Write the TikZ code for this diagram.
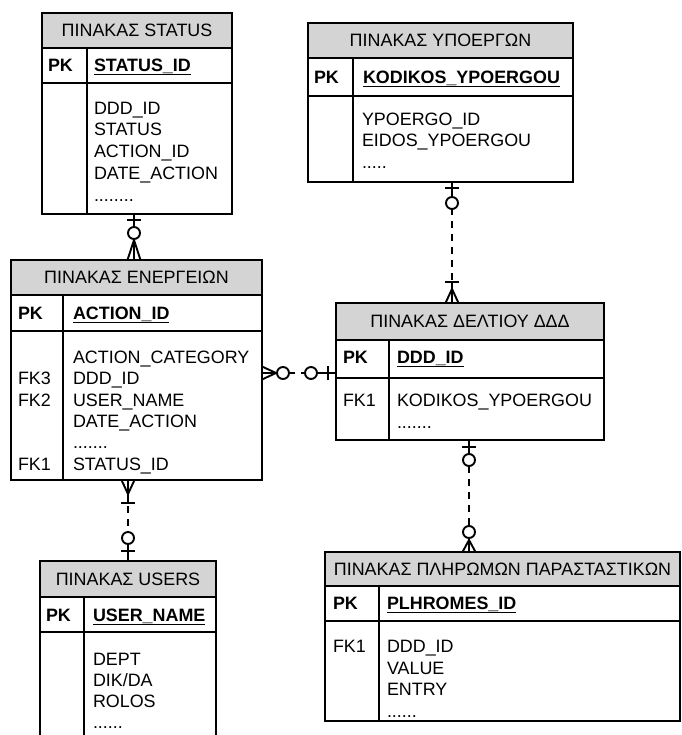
\documentclass[tikz,border=0pt]{standalone}
\usepackage{fontspec}
\setmainfont{Liberation Sans}
\usetikzlibrary{calc}
\definecolor{headgray}{HTML}{D4D4D4}
\newcommand{\tblfont}{\fontsize{17.9}{21}\selectfont}
\tikzset{
  boxline/.style={draw=black, line width=1.3pt},
  tblpart/.style={boxline, anchor=north west, inner sep=0pt, outer sep=0pt},
  tblhead/.style={tblpart, fill=headgray, font=\tblfont},
  fieldtxt/.style={anchor=base west, inner sep=0pt, outer sep=0pt, font=\tblfont},
  keytxt/.style={fieldtxt, font=\tblfont\bfseries},
  link/.style={draw=black, line width=1.9pt, line join=round},
  dashlink/.style={link, dash pattern=on 7pt off 6pt},
  pics/crowfoot/.style={code={\draw[link] (0,-6.5) -- (#1,0) -- (0,6.5) (0,0) -- (#1,0);}},
  pics/onebar/.style={code={\draw[link] (0,0) -- (#1,0) (#1,-7) -- (#1,7);}},
  pics/zeroring/.style={code={\draw[link] (0,0) -- (#1,0); \draw[link, fill=white] (#1,0) circle[radius=6];}},
}
% a row of n trailing dots
\newcommand{\etcdots}[1]{\ifcase#1\or.\or..\or...\or....\or.....\or......\or.......\or........\fi}
% table: name, x, y, width, header h, key row h, body h, divider x, title
\newcommand{\ertable}[9]{%
  \node[tblhead, minimum width=#4pt, minimum height=#5pt] (#1-h) at (#2,#3) {#9};
  \node[tblpart, minimum width=#4pt, minimum height=#6pt] (#1-k) at (#1-h.south west) {};
  \node[tblpart, minimum width=#4pt, minimum height=#7pt] (#1-b) at (#1-k.south west) {};
  \draw[boxline] (#8,0 |- #1-k.north) -- (#8,0 |- #1-b.south);
}
% attribute rows: prefix, x, first baseline, step, list
\newcommand{\fieldrows}[5]{%
  \foreach \t [count=\i] in {#5} \node[fieldtxt] (#1\i) at (#2, {#3+(\i-1)*#4}) {\t};
}
\newcommand{\keyunder}[1]{%
  \draw[line width=1.4pt] ($(#1.base west)+(0,3)$) -- ($(#1.base east)+(0,3)$);
}
\begin{document}
\begin{tikzpicture}[x=1pt,y=-1pt]
\useasboundingbox (0,0) rectangle (681,735);

% tables
\ertable{st}{42}{13}{190}{35}{35}{131}{87}{ΠΙΝΑΚΑΣ STATUS}
\ertable{yp}{308}{23}{265}{35}{38}{86}{353}{ΠΙΝΑΚΑΣ ΥΠΟΕΡΓΩΝ}
\ertable{en}{11}{260}{251}{35}{36}{149}{63}{ΠΙΝΑΚΑΣ ΕΝΕΡΓΕΙΩΝ}
\ertable{de}{336}{303}{268}{37}{38}{62}{389}{ΠΙΝΑΚΑΣ ΔΕΛΤΙΟΥ ΔΔΔ}
\ertable{us}{40}{561}{176}{36}{35}{200}{84}{ΠΙΝΑΚΑΣ USERS}
\ertable{pl}{325}{552}{355}{34}{35}{100}{379}{ΠΙΝΑΚΑΣ ΠΛΗΡΩΜΩΝ ΠΑΡΑΣΤΑΣΤΙΚΩΝ}

% STATUS fields
\node[keytxt] (st-pk) at (48,71.5) {PK};
\node[keytxt] (st-key) at (94,71.5) {STATUS\_ID}; \keyunder{st-key}
\fieldrows{st-f}{94}{114.3}{21.7}{DDD\_ID,STATUS,ACTION\_ID,DATE\_ACTION,\etcdots{8}}

% ΥΠΟΕΡΓΩΝ fields
\node[keytxt] (yp-pk) at (314,83.5) {PK};
\node[keytxt] (yp-key) at (363,83.5) {KODIKOS\_YPOERGOU}; \keyunder{yp-key}
\fieldrows{yp-f}{362}{125.5}{21.4}{YPOERGO\_ID,EIDOS\_YPOERGOU,\etcdots{5}}

% ΕΝΕΡΓΕΙΩΝ fields
\node[keytxt] (en-pk) at (18,319.5) {PK};
\node[keytxt] (en-key) at (73,319.5) {ACTION\_ID}; \keyunder{en-key}
\fieldrows{en-f}{73}{363.5}{21.3}{ACTION\_CATEGORY,DDD\_ID,USER\_NAME,DATE\_ACTION,\etcdots{7},STATUS\_ID}
\node[fieldtxt] (en-fk3) at (18,384.8) {FK3};
\node[fieldtxt] (en-fk2) at (18,406.1) {FK2};
\node[fieldtxt] (en-fk1) at (18,470) {FK1};

% ΔΕΛΤΙΟΥ fields
\node[keytxt] (de-pk) at (343,363.5) {PK};
\node[keytxt] (de-key) at (397,363.5) {DDD\_ID}; \keyunder{de-key}
\node[fieldtxt] (de-fk1) at (343,406.5) {FK1};
\fieldrows{de-f}{397}{406.5}{21.5}{KODIKOS\_YPOERGOU,\etcdots{7}}

% USERS fields
\node[keytxt] (us-pk) at (46,621.5) {PK};
\node[keytxt] (us-key) at (93,621.5) {USER\_NAME}; \keyunder{us-key}
\fieldrows{us-f}{93}{665.5}{21}{DEPT,DIK/DA,ROLOS,\etcdots{6}}

% ΠΛΗΡΩΜΩΝ fields
\node[keytxt] (pl-pk) at (333,609.5) {PK};
\node[keytxt] (pl-key) at (387,609.5) {PLHROMES\_ID}; \keyunder{pl-key}
\node[fieldtxt] (pl-fk1) at (333,652.5) {FK1};
\fieldrows{pl-f}{387}{652.5}{21.5}{DDD\_ID,VALUE,ENTRY,\etcdots{6}}

% STATUS -- ΕΝΕΡΓΕΙΩΝ
\coordinate (st-out) at ($(st-b.south west)+(92,0)$);
\draw[link] (st-out) -- (st-out |- en-h.north);
\pic[rotate=-90] at (st-out) {onebar=6};
\pic[rotate=90] at (st-out |- en-h.north) {zeroring=27};
\pic[rotate=90] at (st-out |- en-h.north) {crowfoot=20};

% ΥΠΟΕΡΓΩΝ -- ΔΕΛΤΙΟΥ
\coordinate (yp-out) at ($(yp-b.south west)+(144,0)$);
\draw[dashlink] (yp-out) -- (yp-out |- de-h.north);
\pic[rotate=-90] at (yp-out) {zeroring=21};
\pic[rotate=-90] at (yp-out) {onebar=6};
\pic[rotate=90] at (yp-out |- de-h.north) {crowfoot=14};
\pic[rotate=90] at (yp-out |- de-h.north) {onebar=21};

% ΔΕΛΤΙΟΥ -- ΠΛΗΡΩΜΩΝ
\coordinate (de-out) at ($(de-b.south west)+(133,0)$);
\draw[dashlink] (de-out) -- (de-out |- pl-h.north);
\pic[rotate=-90] at (de-out) {zeroring=20};
\pic[rotate=-90] at (de-out) {onebar=7};
\pic[rotate=90] at (de-out |- pl-h.north) {zeroring=20};
\pic[rotate=90] at (de-out |- pl-h.north) {crowfoot=12};

% ΕΝΕΡΓΕΙΩΝ -- ΔΕΛΤΙΟΥ
\coordinate (en-out) at ($(en-b.north east)+(0,42)$);
\draw[dashlink] (en-out) -- (en-out -| de-k.west);
\pic at (en-out) {zeroring=21};
\pic at (en-out) {crowfoot=14};
\pic[rotate=180] at (en-out -| de-k.west) {zeroring=25};
\pic[rotate=180] at (en-out -| de-k.west) {onebar=8};

% ΕΝΕΡΓΕΙΩΝ -- USERS
\coordinate (us-in) at ($(us-h.north west)+(88,0)$);
\draw[dashlink] (us-in |- en-b.south) -- (us-in);
\pic[rotate=-90] at (us-in |- en-b.south) {onebar=23};
\pic[rotate=-90] at (us-in |- en-b.south) {crowfoot=14};
\pic[rotate=90] at (us-in) {zeroring=23};
\pic[rotate=90] at (us-in) {onebar=10};
\end{tikzpicture}
\end{document}
